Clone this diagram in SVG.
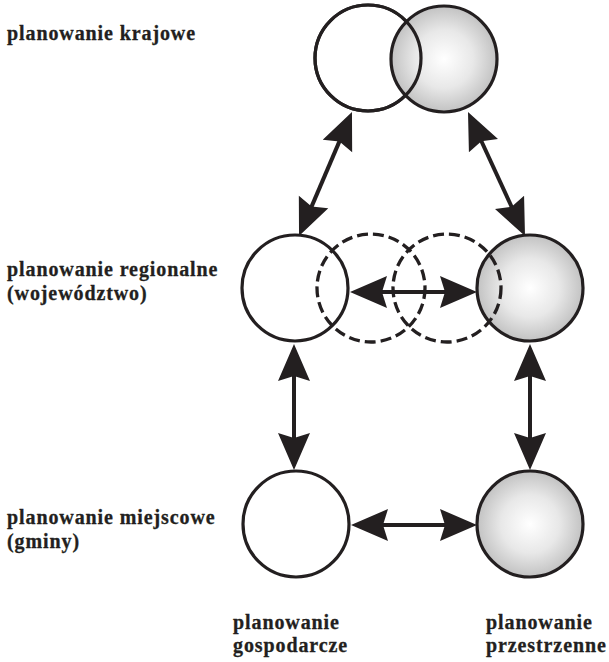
<svg xmlns="http://www.w3.org/2000/svg" width="609" height="662" viewBox="0 0 609 662">
  <style>
    .lbl { font-family: "Liberation Serif", "Times New Roman", serif; font-weight: bold; font-size: 20px; letter-spacing: 0.9px; fill: #231f20; stroke: #231f20; stroke-width: 0.3; }
    .c { stroke: #231f20; stroke-width: 3.2; }
    .white { fill: #ffffff; }
    .gray { fill: url(#g); }
    .dash { fill: none; stroke: #231f20; stroke-width: 3.3; stroke-dasharray: 11 5; }
    .arr { stroke: #231f20; stroke-width: 4; fill: none; marker-start: url(#ah); marker-end: url(#ah); }
  </style>
  <defs>
    <radialGradient id="g" cx="0.5" cy="0.5" r="0.5">
      <stop offset="0" stop-color="#ffffff"/>
      <stop offset="0.55" stop-color="#e8e8e8"/>
      <stop offset="1" stop-color="#c2c2c2"/>
    </radialGradient>
    <marker id="ah" markerUnits="userSpaceOnUse" markerWidth="40" markerHeight="34" refX="20" refY="16" orient="auto-start-reverse" overflow="visible">
      <path d="M37,16 L0,0 L5,16 L0,32 Z" fill="#231f20"/>
    </marker>
  </defs>

  <!-- labels -->
  <g id="label-krajowe"><text class="lbl" x="7" y="40">planowanie krajowe</text></g>
  <g id="label-regionalne">
    <text class="lbl" x="7" y="276">planowanie regionalne</text>
    <text class="lbl" x="7" y="300">(województwo)</text>
  </g>
  <g id="label-miejscowe">
    <text class="lbl" x="7" y="524">planowanie miejscowe</text>
    <text class="lbl" x="7" y="548">(gminy)</text>
  </g>
  <g id="label-gospodarcze">
    <text class="lbl" x="233" y="629">planowanie</text>
    <text class="lbl" x="233" y="652">gospodarcze</text>
  </g>
  <g id="label-przestrzenne">
    <text class="lbl" x="486" y="629">planowanie</text>
    <text class="lbl" x="486" y="652">przestrzenne</text>
  </g>

  <!-- top row -->
  <g id="node-national-economic"><circle class="c white" cx="368" cy="58" r="53"/></g>
  <g id="node-national-spatial"><circle class="c gray" cx="444" cy="59" r="53"/></g>
  <g id="node-national-economic-outline"><circle class="c" fill="none" cx="368" cy="58" r="53"/></g>

  <!-- middle row -->
  <g id="node-regional-economic"><circle class="c white" cx="295" cy="288" r="53"/></g>
  <g id="node-regional-spatial"><circle class="c gray" cx="530" cy="288" r="53"/></g>
  <g id="node-regional-dashed-1"><circle class="dash" cx="371" cy="288" r="54"/></g>
  <g id="node-regional-dashed-2"><circle class="dash" cx="447" cy="288" r="54"/></g>

  <!-- bottom row -->
  <g id="node-local-economic"><circle class="c white" cx="296" cy="524" r="53"/></g>
  <g id="node-local-spatial"><circle class="c gray" cx="530" cy="524" r="53"/></g>

  <!-- connectors -->
  <g id="connectors">
    <line class="arr" x1="345.3" y1="127.6" x2="305.7" y2="220.4"/>
    <line class="arr" x1="475.1" y1="127.5" x2="517.9" y2="220.5"/>
    <line class="arr" x1="367" y1="292" x2="460" y2="292"/>
    <line class="arr" x1="294" y1="361" x2="294" y2="453"/>
    <line class="arr" x1="530" y1="361" x2="530" y2="453"/>
    <line class="arr" x1="368" y1="525" x2="460" y2="525"/>
  </g>
</svg>
